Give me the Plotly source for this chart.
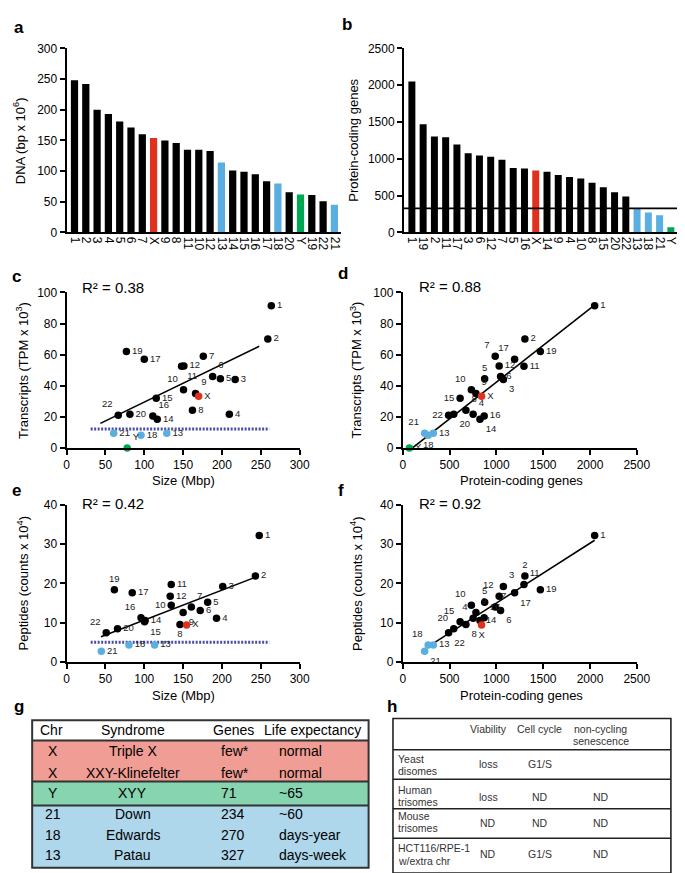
import plotly.graph_objects as go

W, H = 685, 873
def PX(v): return v / W
def PY(v): return 1 - v / H

FONT = "Liberation Sans, Arial, sans-serif"

# ---------------- data ----------------
chr_a = ["1", "2", "3", "4", "5", "6", "7", "X", "9", "8", "11", "10", "12", "13",
         "14", "15", "16", "17", "18", "20", "Y", "19", "22", "21"]
dna_mbp = [248, 242, 200, 193, 181, 171, 160, 154, 150, 146, 135, 135, 133, 114,
           101, 99, 95, 83.5, 80, 65.5, 62, 61, 51, 45]

chr_b = ["1", "19", "2", "11", "17", "3", "6", "12", "7", "5", "16", "X", "14", "9",
         "4", "10", "8", "15", "20", "22", "13", "18", "21", "Y"]
protein_genes = [2050, 1470, 1305, 1295, 1195, 1075, 1045, 1030, 988, 875, 870, 842,
                 825, 782, 752, 733, 675, 613, 545, 490, 327, 272, 234, 71]
gene_cutoff = 327

chr_pts = ["1", "2", "3", "4", "5", "6", "7", "8", "9", "10", "11", "12", "13", "14",
           "15", "16", "17", "18", "19", "20", "21", "22", "X", "Y"]
size_c = [263.5, 259, 217, 209.5, 198, 188, 176, 162, 166, 150.5, 148, 151, 129,
          116.7, 115.4, 111, 100, 95.8, 77, 81.5, 60.6, 66.5, 170, 78]
transcripts = [91.5, 70, 44, 21.7, 44.5, 46, 59, 24.3, 35, 37.5, 52.5, 52.7, 9.5,
               18.5, 32, 20.5, 57, 8.2, 62, 21.7, 9.5, 21, 33.3, 0]
size_e = [248, 243, 201, 193, 181.6, 172, 160.6, 146, 150, 134.7, 134.7, 133.4,
          113.3, 101, 100.4, 95.8, 84.5, 80.3, 61.5, 65.6, 44.7, 51, 154.4, None]
peptides = [32.2, 21.9, 19.2, 11.1, 15.2, 13.1, 14, 9.5, 12.6, 14.4, 19.7, 16.7, 4.3,
            10.5, 10.2, 11.2, 17.6, 4.3, 18.4, 8.4, 2.7, 7.4, 9.4, None]

r2_c, r2_d, r2_e, r2_f = "0.38", "0.88", "0.42", "0.92"
fit_c_x, fit_c_y = [43.5, 248], [15.8, 65.4]
fit_d_x, fit_d_y = [104, 2045], [0, 91.7]
fit_e_x, fit_e_y = [44.3, 246], [6.4, 21.8]
fit_f_x, fit_f_y = [347, 2050], [5.0, 31.0]
floor_x = [31, 261]
floor_c = 12.2
floor_e = 5.0

g_header = ["Chr", "Syndrome", "Genes", "Life expectancy"]
g_chr = ["X", "X", "Y", "21", "18", "13"]
g_syndrome = ["Triple X", "XXY-Klinefelter", "XYY", "Down", "Edwards", "Patau"]
g_genes = ["few*", "few*", "71", "234", "270", "327"]
g_life = ["normal", "normal", "~65", "~60", "days-year", "days-week"]

h_header = ["Viability", "Cell cycle", "non-cycling<br>senescence"]
h_rows = [("Yeast", "disomes"), ("Human", "trisomes"), ("Mouse", "trisomes"),
          ("HCT116/RPE-1", "w/extra chr")]
h_values = [["loss", "G1/S", ""], ["loss", "ND", "ND"], ["ND", "ND", "ND"],
            ["ND", "G1/S", "ND"]]

# ---------------- styles ----------------
RED = "#E0301E"
BLUE = "#5BAEE0"
GREEN = "#00A651"
def color_of(ch):
    if ch == "X":
        return RED
    if ch == "Y":
        return GREEN
    if ch in ("13", "18", "21"):
        return BLUE
    return "black"

pos_c = {"1": "middle right", "2": "middle right", "3": "middle right", "4": "middle right",
         "5": "middle right", "6": "top right", "7": "middle right", "8": "middle right",
         "9": "top right", "10": "top left", "11": "bottom right", "12": "middle right",
         "13": "middle right", "14": "middle right", "15": "middle right", "16": "top right",
         "17": "middle right", "18": "middle right", "19": "middle right", "20": "middle right",
         "21": "middle right", "22": "top left", "X": "middle right", "Y": "top right"}
pos_d = {"1": "middle right", "2": "middle right", "3": "bottom right", "4": "top right",
         "5": "top center", "6": "middle right", "7": "top left", "8": "top right",
         "9": "top right", "10": "top left", "11": "middle right", "12": "middle right",
         "13": "middle right", "14": "bottom right", "15": "middle left", "16": "middle right",
         "17": "top left", "18": "bottom center", "19": "middle right", "20": "bottom right",
         "21": "top left", "22": "middle left", "X": "middle right", "Y": "middle right"}
pos_e = {"1": "middle right", "2": "middle right", "3": "middle right", "4": "middle right",
         "5": "middle right", "6": "middle right", "7": "top right", "8": "bottom center",
         "9": "bottom right", "10": "middle left", "11": "middle right", "12": "middle right",
         "13": "middle right", "14": "middle right", "15": "bottom right", "16": "top left",
         "17": "middle right", "18": "middle right", "19": "top center", "20": "middle right",
         "21": "middle right", "22": "top left", "X": "middle right", "Y": "middle right"}
pos_f = {"1": "middle right", "2": "top center", "3": "top right", "4": "top left",
         "5": "top center", "6": "bottom right", "7": "top right", "8": "bottom right",
         "9": "top right", "10": "top left", "11": "top right", "12": "top left",
         "13": "middle right", "14": "middle right", "15": "top left", "16": "top right",
         "17": "bottom right", "18": "top left", "19": "middle right", "20": "top left",
         "21": "bottom right", "22": "bottom right", "X": "bottom center", "Y": "middle right"}

genes_of = dict(zip(chr_b, protein_genes))

fig = go.Figure()

# ---- bars
fig.add_trace(go.Bar(x=chr_a, y=dna_mbp, marker=dict(color=[color_of(c) for c in chr_a], line=dict(width=0)),
                     width=0.64, xaxis="x", yaxis="y", showlegend=False))
fig.add_trace(go.Bar(x=chr_b, y=protein_genes, marker=dict(color=[color_of(c) for c in chr_b], line=dict(width=0)),
                     width=0.62, xaxis="x2", yaxis="y2", showlegend=False))

def scatter(xs, ys, pos, xa, ya):
    pts = [(c, x, y) for c, x, y in zip(chr_pts, xs, ys) if x is not None and y is not None]
    fig.add_trace(go.Scatter(
        x=[p[1] for p in pts], y=[p[2] for p in pts], mode="markers+text",
        text=[p[0] for p in pts], textposition=[pos[p[0]] for p in pts],
        textfont=dict(size=9.5, color="#222", family=FONT),
        marker=dict(size=7.5, color=[color_of(p[0]) for p in pts], line=dict(width=0)),
        xaxis=xa, yaxis=ya, showlegend=False, cliponaxis=False))

def line(xs, ys, xa, ya, color="black", width=1.6, dash="solid"):
    fig.add_trace(go.Scatter(x=xs, y=ys, mode="lines", line=dict(color=color, width=width, dash=dash),
                             xaxis=xa, yaxis=ya, showlegend=False, hoverinfo="skip"))

DOT = "#4B4BA8"
line(floor_x, [floor_c, floor_c], "x3", "y3", color=DOT, width=3, dash="2px,1.5px")
line(fit_c_x, fit_c_y, "x3", "y3")
scatter(size_c, transcripts, pos_c, "x3", "y3")

line(fit_d_x, fit_d_y, "x4", "y4")
scatter([genes_of[c] for c in chr_pts], transcripts, pos_d, "x4", "y4")

line(floor_x, [floor_e, floor_e], "x5", "y5", color=DOT, width=3, dash="2px,1.5px")
line(fit_e_x, fit_e_y, "x5", "y5")
scatter(size_e, peptides, pos_e, "x5", "y5")

line(fit_f_x, fit_f_y, "x6", "y6")
scatter([genes_of[c] for c in chr_pts], peptides, pos_f, "x6", "y6")

# ---- axes
def ax(dom, rng=None, dtick=None, anchor=None, **kw):
    d = dict(domain=dom, anchor=anchor, showline=True, linewidth=2, linecolor="black",
             ticks="outside", ticklen=5, tickwidth=2, tickcolor="black", showgrid=False,
             zeroline=False, tickfont=dict(size=12, color="black", family=FONT))
    if rng is not None:
        d["range"] = rng
    if dtick is not None:
        d["dtick"] = dtick
    d.update(kw)
    return d

xa_l = [PX(57), PX(296)]
xa_r = [PX(401.7), PX(641.7)]
ya_top = [PY(221), PY(34)]
ya_c = [PY(440), PY(282)]
ya_e = [PY(657.3), PY(498)]

layout_axes = dict(
    xaxis=ax([PX(57), PX(338)], [-0.7, 23.55], None, "y", type="category", ticks="",
             tickmode="array", tickvals=chr_a, ticktext=chr_a, tickangle=90),
    yaxis=ax(ya_top, [0, 300], 50, "x"),
    xaxis2=ax([PX(403), PX(683)], [-0.7, 23.55], None, "y2", type="category", ticks="",
              tickmode="array", tickvals=chr_b, ticktext=chr_b, tickangle=90),
    yaxis2=ax(ya_top, [0, 2500], 500, "x2"),
    xaxis3=ax(xa_l, [0, 300], 50, "y3"),
    yaxis3=ax(ya_c, [0, 100], 20, "x3"),
    xaxis4=ax(xa_r, [0, 2500], 500, "y4"),
    yaxis4=ax(ya_c, [0, 100], 20, "x4"),
    xaxis5=ax(xa_l, [0, 300], 50, "y5"),
    yaxis5=ax(ya_e, [0, 40], 10, "x5"),
    xaxis6=ax(xa_r, [0, 2500], 500, "y6"),
    yaxis6=ax(ya_e, [0, 40], 10, "x6"),
)

shapes = [dict(type="line", xref="x2 domain", yref="y2", x0=0, x1=1, y0=gene_cutoff, y1=gene_cutoff,
               line=dict(color="black", width=1.6))]

ann = []
def A(x, y, text, size=13, angle=0, xanchor="center", yanchor="middle", bold=False, color="black"):
    ann.append(dict(x=PX(x), y=PY(y), xref="paper", yref="paper", text=(f"<b>{text}</b>" if bold else text),
                    showarrow=False, textangle=angle, xanchor=xanchor, yanchor=yanchor,
                    font=dict(size=size, color=color, family=FONT)))

# panel letters
for t, x, y in [("a", 8, 13), ("b", 345, 10), ("c", 6, 266), ("d", 340, 263),
                ("e", 6, 483), ("f", 338, 483), ("g", 8, 703), ("h", 391, 703)]:
    A(x, y, t, size=17, bold=True)

# axis titles
A(9, 127.5, "DNA (bp x 10<sup>6</sup>)", angle=-90)
A(351, 127.5, "Protein-coding genes", angle=-90)
A(12, 361, "Transcripts (TPM x 10<sup>3</sup>)", angle=-90)
A(354, 361, "Transcripts (TPM x 10<sup>3</sup>)", angle=-90)
A(12, 578, "Peptides (counts x 10<sup>4</sup>)", angle=-90)
A(354, 578, "Peptides (counts x 10<sup>4</sup>)", angle=-90)
A(176.5, 473, "Size (Mbp)")
A(523, 473, "Protein-coding genes")
A(176.5, 692, "Size (Mbp)")
A(523, 692, "Protein-coding genes")

# R^2
A(70.7, 276.7, f"R² = {r2_c}", size=15, xanchor="left")
A(416, 276, f"R² = {r2_d}", size=15, xanchor="left")
A(70.7, 496.7, f"R² = {r2_e}", size=15, xanchor="left")
A(416, 496, f"R² = {r2_f}", size=15, xanchor="left")

# ---- table g
gx0, gx1 = 21.7, 366.7
bands = [(716.7, 737.3, "white"), (737.3, 779, "#F09D95"), (779, 803.3, "#86D5B0"), (803.3, 866.7, "#AED7EC")]
for y0, y1, col in bands:
    shapes.append(dict(type="rect", xref="paper", yref="paper", x0=PX(gx0), x1=PX(gx1), y0=PY(y1), y1=PY(y0),
                       fillcolor=col, line=dict(width=0), layer="below"))
for yy in (737.3, 779, 803.3):
    shapes.append(dict(type="line", xref="paper", yref="paper", x0=PX(gx0), x1=PX(gx1), y0=PY(yy), y1=PY(yy),
                       line=dict(color="#333", width=2)))
shapes.append(dict(type="rect", xref="paper", yref="paper", x0=PX(gx0), x1=PX(gx1), y0=PY(866.7), y1=PY(716.7),
                   line=dict(color="#333", width=2)))
A(42, 726.7, g_header[0], size=14)
A(125, 726.7, g_header[1], size=14)
A(228, 726.7, g_header[2], size=14)
A(309, 726.7, g_header[3], size=14)
row_y = [748.3, 770, 790.7, 812.3, 833.3, 854]
for i, yy in enumerate(row_y):
    A(43, yy, g_chr[i], size=14)
    A(125, yy, g_syndrome[i], size=14)
    A(213, yy, g_genes[i], size=14, xanchor="left")
    A(273, yy, g_life[i], size=14, xanchor="left")

# ---- table h
hx0, hx1 = 391.7, 676.7
shapes.append(dict(type="rect", xref="paper", yref="paper", x0=PX(hx0), x1=PX(hx1), y0=PY(872), y1=PY(715),
                   line=dict(color="#222", width=1.6)))
for yy in (746.7, 776.7, 806.7, 836.7):
    shapes.append(dict(type="line", xref="paper", yref="paper", x0=PX(hx0), x1=PX(hx1), y0=PY(yy), y1=PY(yy),
                       line=dict(color="#222", width=1.6)))
HC = "#333"
col_x = [489.6, 542.4, 605]
A(col_x[0], 726, h_header[0], size=10.5, color=HC)
A(col_x[1], 726, h_header[1], size=10.5, color=HC)
top, bot = h_header[2].split("<br>")
A(604, 726, top, size=10.5, color=HC)
A(605.3, 738.3, bot, size=10.5, color=HC)
lab_y = [(756, 768.3), (787.7, 800), (814.3, 826.7), (846.7, 859.3)]
val_y = [761.7, 794.3, 820.7, 852.7]
for i, (l1, l2) in enumerate(h_rows):
    A(395, lab_y[i][0], l1, size=10.5, xanchor="left", color=HC)
    A(395, lab_y[i][1], l2, size=10.5, xanchor="left", color=HC)
    for j, v in enumerate(h_values[i]):
        if v:
            A(col_x[j], val_y[i], v, size=10.5, color=HC)

fig.update_layout(width=W, height=H, margin=dict(l=0, r=0, t=0, b=0),
                  paper_bgcolor="white", plot_bgcolor="white",
                  font=dict(family=FONT, color="black"), showlegend=False,
                  shapes=shapes, annotations=ann, **layout_axes)

fig.write_html("out.html")
